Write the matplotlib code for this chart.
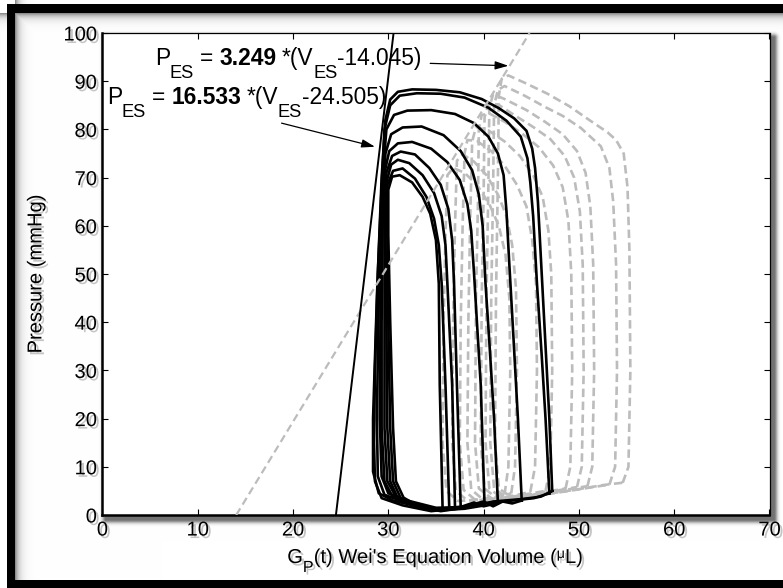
import numpy as np
import matplotlib
matplotlib.use("Agg")
import matplotlib.pyplot as plt
from matplotlib import patheffects as pe

plt.rcParams['font.family'] = ['Liberation Sans', 'DejaVu Sans']

# ---------------------------------------------------------------- data
# end-systolic pressure-volume relations: P = Ees * (V - V0)
espvr_black = (16.533, 24.505)
espvr_gray = (3.249, 14.045)

# pressure-volume loops, conductance volume (solid black)
black_vol = [
    [47.2, 46.9, 46.5, 46.1, 45.7, 45.4, 45.1, 44.5, 43.2, 41.6, 39.8, 37.5, 35.0, 32.5, 31.0,
     30.2, 29.7, 29.3, 28.8, 28.4, 28.4, 29.0, 30.5, 33.0, 35.5, 38.0, 41.0, 44.0, 46.0, 47.2],
    [46.9, 46.5, 46.1, 45.6, 45.2, 44.9, 44.6, 43.9, 42.4, 40.5, 38.0, 35.5, 33.0, 31.2, 30.2,
     29.6, 29.3, 28.9, 28.6, 28.5, 28.6, 29.3, 31.5, 34.5, 37.0, 40.0, 43.0, 45.3, 46.9],
    [44.0, 43.6, 43.1, 42.7, 42.4, 42.1, 41.5, 40.5, 39.0, 37.0, 34.5, 32.0, 30.6, 29.8, 29.4,
     29.0, 28.8, 28.9, 29.6, 31.5, 35.0, 38.0, 40.0, 41.0, 42.0, 43.0, 44.0],
    [41.5, 41.1, 40.6, 40.2, 39.9, 39.5, 38.8, 37.6, 35.8, 33.5, 31.5, 30.3, 29.7, 29.4, 29.2,
     29.1, 29.3, 30.0, 32.0, 35.0, 37.5, 39.0, 40.0, 41.5],
    [40.1, 39.7, 39.3, 39.0, 38.7, 38.3, 37.5, 36.2, 34.5, 32.5, 31.0, 30.1, 29.6, 29.4, 29.3,
     29.3, 29.6, 30.4, 32.5, 35.5, 38.0, 40.1],
    [37.6, 37.2, 36.9, 36.7, 36.3, 35.5, 34.3, 32.8, 31.3, 30.4, 29.8, 29.6, 29.6, 29.6, 29.9,
     30.8, 32.5, 35.0, 37.6],
    [37.0, 36.7, 36.2, 36.0, 35.6, 34.8, 33.6, 32.2, 31.0, 30.3, 29.8, 29.7, 29.8, 29.9, 30.2,
     31.0, 33.0, 35.3, 37.0],
    [36.4, 36.0, 35.6, 35.3, 34.8, 34.0, 32.8, 31.5, 30.5, 29.9, 29.9, 30.0, 30.2, 30.5, 31.3,
     33.0, 35.0, 36.4],
    [35.7, 35.4, 35.3, 35.0, 34.4, 33.6, 32.5, 31.2, 30.4, 30.0, 30.0, 30.2, 30.5, 30.8, 31.6,
     33.0, 35.7],
]
black_prs = [
    [5.0, 20.0, 35.0, 50.0, 65.0, 72.0, 76.0, 79.7, 82.3, 84.4, 86.3, 87.7, 88.2, 88.3, 87.8,
     86.2, 82.0, 70.0, 45.0, 20.0, 9.0, 4.5, 3.0, 1.8, 0.8, 1.5, 2.8, 3.3, 3.8, 5.0],
    [4.5, 20.0, 33.0, 48.0, 62.0, 69.0, 74.0, 78.5, 81.8, 84.5, 86.6, 87.4, 87.5, 87.0, 85.0,
     80.0, 68.0, 50.0, 30.0, 15.0, 7.0, 3.5, 2.0, 0.8, 1.3, 2.4, 3.0, 3.5, 4.5],
    [3.0, 20.0, 38.0, 52.0, 63.0, 70.5, 75.0, 78.5, 81.3, 83.2, 84.0, 83.9, 83.0, 80.0, 70.0,
     45.0, 20.0, 8.0, 4.2, 2.8, 1.2, 1.8, 2.8, 1.8, 2.8, 2.4, 3.0],
    [2.5, 20.0, 36.0, 48.0, 60.0, 66.5, 71.5, 75.5, 78.8, 80.6, 80.4, 79.0, 75.0, 65.0, 45.0,
     20.0, 8.0, 4.5, 3.0, 1.5, 1.6, 2.6, 1.8, 2.5],
    [2.0, 27.0, 40.0, 50.0, 59.0, 64.5, 69.5, 73.2, 76.0, 77.4, 77.1, 75.5, 71.0, 60.0, 40.0,
     18.0, 7.0, 4.0, 2.5, 1.0, 1.3, 2.0],
    [1.5, 27.0, 48.0, 57.0, 63.5, 68.5, 72.0, 74.8, 75.4, 74.5, 71.0, 60.0, 40.0, 18.0, 7.0,
     3.8, 2.4, 1.2, 1.5],
    [1.5, 27.0, 48.0, 56.0, 62.0, 66.8, 70.5, 73.0, 73.7, 72.7, 69.0, 58.0, 40.0, 18.0, 7.0,
     3.5, 2.2, 1.2, 1.5],
    [1.2, 27.0, 48.0, 56.0, 61.5, 66.0, 69.8, 71.9, 71.4, 68.5, 58.0, 40.0, 18.0, 7.0, 3.5,
     2.0, 1.2, 1.2],
    [1.0, 27.0, 48.0, 57.0, 62.5, 66.0, 69.0, 70.5, 70.2, 67.5, 58.0, 40.0, 18.0, 7.0, 3.6,
     2.0, 1.0],
]

# the same beats, uncorrected volume (dashed gray)
gray_vol = [
    [54.6, 55.2, 55.4, 55.3, 55.1, 54.7, 53.9, 53.0, 51.2, 49.0, 46.7, 44.5, 42.6, 41.9, 41.6,
     41.5, 41.3, 41.2, 41.6, 43.0, 46.0, 49.5, 52.5, 54.6],
    [53.2, 53.8, 54.0, 53.9, 53.6, 53.2, 52.3, 50.2, 48.3, 46.5, 44.3, 42.2, 41.5, 41.1, 41.0,
     40.8, 40.7, 41.1, 42.5, 45.5, 49.0, 51.5, 53.2],
    [50.9, 51.4, 51.6, 51.5, 51.2, 50.7, 49.8, 48.3, 46.5, 44.5, 42.2, 41.0, 40.6, 40.5, 40.3,
     40.2, 40.6, 42.0, 45.0, 48.0, 50.9],
    [49.8, 50.3, 50.5, 50.4, 50.1, 49.5, 48.5, 47.0, 45.2, 43.2, 41.5, 40.5, 40.1, 40.0, 39.8,
     39.7, 40.1, 41.5, 44.5, 47.5, 49.8],
    [48.6, 49.1, 49.3, 49.2, 48.9, 48.3, 47.3, 45.8, 44.0, 42.2, 40.6, 39.8, 39.5, 39.4, 39.2,
     39.1, 39.5, 41.0, 44.0, 46.5, 48.6],
    [46.5, 47.0, 47.2, 47.1, 46.8, 46.2, 45.2, 43.8, 42.2, 40.5, 39.2, 38.8, 38.6, 38.4, 38.3,
     38.7, 40.0, 43.0, 45.0, 46.5],
    [44.9, 45.4, 45.6, 45.5, 45.1, 44.5, 43.5, 42.2, 40.8, 39.3, 38.3, 38.0, 37.8, 37.6, 37.5,
     37.9, 39.2, 42.0, 43.8, 44.9],
    [42.9, 43.3, 43.5, 43.4, 43.0, 42.4, 41.5, 40.3, 39.0, 37.8, 37.2, 37.0, 36.8, 36.7, 37.1,
     38.3, 40.5, 42.0, 42.9],
    [42.2, 42.6, 42.8, 42.7, 42.3, 41.6, 40.6, 39.3, 38.0, 36.8, 36.2, 36.0, 35.8, 35.7, 36.1,
     37.3, 39.5, 41.2, 42.2],
]
gray_prs = [
    [6.7, 10.0, 30.0, 55.0, 68.0, 75.0, 77.8, 79.4, 81.8, 84.8, 87.4, 89.5, 91.2, 90.5, 87.0,
     70.0, 45.0, 15.0, 5.5, 3.6, 4.2, 5.2, 6.2, 6.7],
    [6.3, 10.0, 30.0, 52.0, 65.0, 72.0, 76.5, 80.3, 82.8, 84.6, 87.0, 89.0, 88.2, 85.0, 68.0,
     45.0, 15.0, 5.5, 3.5, 4.0, 5.0, 5.8, 6.3],
    [6.0, 10.0, 30.0, 52.0, 64.0, 71.0, 75.5, 79.0, 81.5, 84.0, 86.3, 87.3, 84.5, 68.0, 45.0,
     15.0, 5.5, 3.4, 4.0, 5.0, 6.0],
    [5.8, 10.0, 30.0, 52.0, 63.0, 70.0, 74.5, 78.0, 80.5, 83.0, 85.2, 85.3, 82.5, 66.0, 45.0,
     15.0, 5.5, 3.3, 4.0, 5.0, 5.8],
    [5.5, 10.0, 30.0, 50.0, 61.0, 68.0, 72.5, 76.3, 79.2, 81.6, 83.3, 83.0, 80.0, 64.0, 45.0,
     15.0, 5.5, 3.2, 4.0, 4.8, 5.5],
    [5.0, 10.0, 30.0, 50.0, 59.0, 66.0, 70.5, 74.5, 77.5, 79.8, 80.5, 77.5, 62.0, 40.0, 15.0,
     5.3, 3.1, 3.8, 4.5, 5.0],
    [4.8, 10.0, 30.0, 48.0, 57.0, 64.0, 68.5, 72.5, 75.5, 77.6, 77.8, 75.0, 60.0, 40.0, 15.0,
     5.2, 3.0, 3.6, 4.3, 4.8],
    [4.5, 10.0, 30.0, 47.0, 56.0, 62.0, 66.5, 70.5, 73.3, 74.8, 73.5, 60.0, 40.0, 15.0, 5.0,
     3.0, 3.4, 4.0, 4.5],
    [4.3, 10.0, 30.0, 45.0, 54.0, 60.0, 64.5, 68.5, 71.0, 72.0, 70.5, 58.0, 40.0, 15.0, 5.0,
     2.9, 3.2, 3.8, 4.3],
]

x_ticks = [0, 10, 20, 30, 40, 50, 60, 70]
y_ticks = [0, 10, 20, 30, 40, 50, 60, 70, 80, 90, 100]

# ---------------------------------------------------------------- figure
W, H = 783, 588
fig = plt.figure(figsize=(W / 100, H / 100), dpi=100)
renderer = fig.canvas.get_renderer()

# axes box in pixels (left, top, right, bottom)
ax_l, ax_t, ax_r, ax_b = 102.4, 33.0, 769.5, 515.0

# background: black frame, inner shadow and a soft drop shadow behind the axes
yy, xx = np.mgrid[0:H, 0:W].astype(float)
shade = np.zeros((H, W))
shade = np.maximum(shade, np.where(xx >= 15, 0.45 * np.exp(-(xx - 15) / 4.0), 0))
shade = np.maximum(shade, np.where(yy >= 13, 0.45 * np.exp(-(yy - 13) / 4.0), 0))
sx0, sy0, sx1, sy1 = ax_l + 3, ax_t + 4, ax_r + 4, ax_b + 4
dx = np.maximum(np.maximum(sx0 - xx, xx - sx1), 0)
dy = np.maximum(np.maximum(sy0 - yy, yy - sy1), 0)
dist = np.hypot(dx, dy)
shade = np.maximum(shade, 0.55 * np.exp(-(dist / 3.5) ** 2))
img = np.repeat((1 - shade)[:, :, None], 3, axis=2)
frame = ((xx >= 7) & (yy >= 4)) & ((xx < 15) | (yy < 13) | (yy >= 580))
img[frame] = 0.0

bg = fig.add_axes([0, 0, 1, 1], zorder=0)
bg.imshow(img, aspect='auto', interpolation='nearest')
bg.set_axis_off()

ax = fig.add_axes([ax_l / W, 1 - ax_b / H, (ax_r - ax_l) / W, (ax_b - ax_t) / H], zorder=1)
ax.set_facecolor('white')

gray_c = '#bcbcbc'
for v, p in zip(gray_vol, gray_prs):
    ax.plot(v, p, color=gray_c, lw=1.9, ls=(0, (3.2, 1.7)), zorder=2)
for v, p in zip(black_vol, black_prs):
    ax.plot(v, p, color='black', lw=1.9, zorder=3, solid_joinstyle='round')

p_line = np.array([0.0, 100.0])
ees, v0 = espvr_gray
ax.plot(v0 + p_line / ees, p_line, color=gray_c, lw=1.6, ls=(0, (3.5, 2.0)), zorder=4)
ees, v0 = espvr_black
ax.plot(v0 + p_line / ees, p_line, color='black', lw=1.4, zorder=5)

ax.set_xlim(0, 70)
ax.set_ylim(0, 100)
ax.set_xticks(x_ticks)
ax.set_yticks(y_ticks)
ax.tick_params(direction='in', length=4, width=0.8, top=True, right=True,
               labelsize=14.5, pad=4)
for side, s in ax.spines.items():
    s.set_linewidth(1.8 if side in ('left', 'bottom') else 0.9)

shadow = [pe.SimplePatchShadow(offset=(1.8, -1.8), shadow_rgbFace=(0.35, 0.35, 0.35), alpha=0.35),
          pe.Normal()]
for lab in ax.get_xticklabels() + ax.get_yticklabels():
    lab.set_path_effects(shadow)
ax.set_ylabel('Pressure (mmHg)', fontsize=14.5, labelpad=13, path_effects=shadow)


def rich_text(xy, xycoords, pieces, size, center=False, effects=None):
    """Lay out text runs side by side; each run: (text, scale, bold, dy_px, gap_px)."""
    items = []
    for txt, scale, bold, dyp, gap in pieces:
        t = ax.annotate(txt, xy=xy, xycoords=xycoords, xytext=(0, dyp),
                        textcoords='offset pixels', fontsize=size * scale,
                        fontweight='bold' if bold else 'normal',
                        va='baseline', ha='left', zorder=6, annotation_clip=False)
        if effects:
            t.set_path_effects(effects)
        items.append((t, gap, dyp))
    widths = [t.get_window_extent(renderer).width for t, _, _ in items]
    total = sum(widths) + sum(g for _, g, _ in items)
    x = -total / 2 if center else 0.0
    for (t, gap, dyp), w in zip(items, widths):
        x += gap
        t.xyann = (x, dyp)
        x += w


def espvr_label(ees, v0):
    return [('P', 1, False, 0, 0), ('ES', 0.8, False, -13, 0), ('=', 1, False, 0, 6),
            ('%.3f' % ees, 1, True, 0, 6), ('*(V', 1, False, 0, 5),
            ('ES', 0.8, False, -13, 0), ('-%.3f)' % v0, 1, False, 0, 0)]


arrow = dict(arrowstyle='-|>,head_length=0.8,head_width=0.25', color='black', lw=0.9,
             shrinkA=0, shrinkB=0)
rich_text((5.5, 93.4), 'data', espvr_label(*espvr_gray), 16.4)
ax.annotate('', xy=(42.6, 93.2), xytext=(34.4, 93.7), arrowprops=arrow, zorder=6)
rich_text((0.45, 85.3), 'data', espvr_label(*espvr_black), 16.4)
ax.annotate('', xy=(28.6, 76.4), xytext=(18.8, 81.3), arrowprops=arrow, zorder=6)

# x axis title with a lowered subscript and a small raised mu
rich_text((435, H - 563), 'figure pixels',
          [('G', 1, False, 0, 0), ('P', 0.8, False, -9, 0), ("(t) Wei's Equation Volume (", 1, False, 0, 0),
           ('\u03bc', 0.7, False, 5, 0), ('L)', 1, False, 0, 0)],
          14.5, center=True, effects=shadow)

fig.savefig('out.png', dpi=100)
